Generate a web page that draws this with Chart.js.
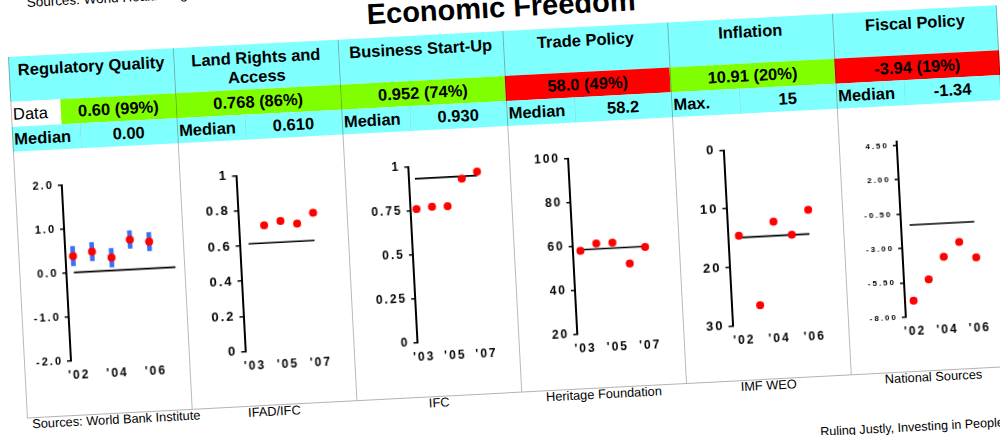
<!DOCTYPE html>
<html><head><meta charset="utf-8">
<script src="https://cdn.jsdelivr.net/npm/chart.js@4.4.1/dist/chart.umd.min.js"></script>
<style>
html,body{margin:0;padding:0;background:#fff;width:1000px;height:435px;overflow:hidden;font-family:"Liberation Sans",Arial,sans-serif;color:#000;}
#sheet{position:absolute;left:8px;top:57px;width:990px;height:361px;transform-origin:0 0;transform:rotate(-3deg);}
.box{position:absolute;box-sizing:border-box;white-space:nowrap;}
.hdr{background:#80ffff;font-weight:bold;font-size:16.5px;line-height:19px;text-align:center;padding:4px 3px 0;white-space:normal;}
.row{display:flex;align-items:center;justify-content:center;font-size:16.5px;font-weight:bold;}
.lbl{justify-content:flex-start;padding-left:2px;}
.cyan{background:#80ffff;}
.vline{position:absolute;width:1px;background:rgba(0,0,0,0.28);}
.hline{position:absolute;height:1px;background:rgba(0,0,0,0.3);}
.src{font-size:12.8px;line-height:13px;text-align:center;}
canvas{position:absolute;}
</style>
</head><body>
<div id="sheet"></div>
<script>
// ---- table text ----
const categories = ['Regulatory Quality','Land Rights and Access','Business Start-Up','Trade Policy','Inflation','Fiscal Policy'];
const scoreText = ['0.60 (99%)','0.768 (86%)','0.952 (74%)','58.0 (49%)','10.91 (20%)','-3.94 (19%)'];
const passed = [true, true, true, false, true, false];
const refLabel = ['Median','Median','Median','Median','Max.','Median'];
const refText = ['0.00','0.610','0.930','58.2','15','-1.34'];
const sourceNames = ['Sources: World Bank Institute','IFAD/IFC','IFC','Heritage Foundation','IMF WEO','National Sources'];

// ---- series ----
const rqYears = [2002, 2003, 2004, 2005, 2006];
const rqValues = [0.37, 0.45, 0.29, 0.68, 0.61];
const rqLow = [0.15, 0.24, 0.08, 0.48, 0.40];
const rqHigh = [0.59, 0.66, 0.50, 0.88, 0.82];
const lrYears = [2004, 2005, 2006, 2007];
const lrValues = [0.71, 0.73, 0.71, 0.768];
const bsYears = [2003, 2004, 2005, 2006, 2007];
const bsValues = [0.757, 0.766, 0.765, 0.916, 0.952];
const tpYears = [2003, 2004, 2005, 2006, 2007];
const tpValues = [57.8, 60.7, 60.7, 50.8, 58.0];
const inYears = [2002, 2003, 2004, 2005, 2006];
const inValues = [14.7, 26.7, 12.6, 15.0, 10.91];
const fpYears = [2002, 2003, 2004, 2005, 2006];
const fpValues = [-6.85, -5.36, -3.78, -2.75, -3.94];

const refValues = [0.00, 0.61, 0.93, 58.2, 15, -1.34];
const refFrom = [2002, 2003, 2003, 2003, 2002, 2002];
const refTo = [2007.3, 2007, 2007, 2007, 2006, 2006];

// ---- tick labels ----
const rqTicks = [-2, -1, 0, 1, 2];
const lrTicks = [0, 0.2, 0.4, 0.6, 0.8, 1];
const bsTicks = [0, 0.25, 0.5, 0.75, 1];
const tpTicks = [20, 40, 60, 80, 100];
const inTicks = [0, 10, 20, 30];
const fpTicks = [-8, -5.5, -3, -0.5, 2, 4.5];
const xTickYears = [[2002,2004,2006],[2003,2005,2007],[2003,2005,2007],[2003,2005,2007],[2002,2004,2006],[2002,2004,2006]];

const seriesYears = [rqYears, lrYears, bsYears, tpYears, inYears, fpYears];
const seriesValues = [rqValues, lrValues, bsValues, tpValues, inValues, fpValues];
const yTicks = [rqTicks, lrTicks, bsTicks, tpTicks, inTicks, fpTicks];

// ---- layout (positions/styles only) ----
const COLW = 165;
const panelLayout = [
  {axis:47,   y0:2002, p0:54.5, step:19.2,  right:160, yMin:-2, yMax:2,   rev:false, font:11, dec:1},
  {axis:56.5, y0:2003, p0:65.5, step:16.5,  right:150, yMin:0,  yMax:1,   rev:false, font:13, dec:-1},
  {axis:64,   y0:2003, p0:70,   step:15.6,  right:150, yMin:0,  yMax:1,   rev:false, font:12, dec:-1},
  {axis:59,   y0:2003, p0:66.5, step:16.2,  right:150, yMin:20, yMax:100, rev:false, font:12, dec:-1},
  {axis:49.5, y0:2002, p0:60.5, step:17.65, right:150, yMin:0,  yMax:30,  rev:true,  font:13, dec:-1},
  {axis:58,   y0:2002, p0:66.6, step:16.2,  right:150, yMin:-8, yMax:4.8, rev:false, font:8,  dec:2}
];

const sheet = document.getElementById('sheet');
function el(cls, css, text){
  const d = document.createElement('div');
  d.className = cls;
  Object.assign(d.style, css);
  if (text !== undefined) d.textContent = text;
  sheet.appendChild(d);
  return d;
}

// title & stray texts
el('box', {left:'0px', top:'-38.5px', width:'990px', textAlign:'center', fontSize:'29px', lineHeight:'29px', fontWeight:'bold'}, 'Economic Freedom');
el('box', {left:'21.5px', top:'-60.5px', fontSize:'13.5px', lineHeight:'13.5px'}, 'Sources: World Health Organization');
el('box', {left:'791.5px', top:'411px', fontSize:'12.6px', lineHeight:'13px'}, 'Ruling Justly, Investing in People, Economic Freedom');

categories.forEach((name, c) => {
  const x = c * COLW;
  el('box hdr', {left:x+'px', top:'0px', width:COLW+'px', height:'45px'}, name);
  if (c === 0) {
    el('box row lbl', {left:x+'px', top:'45px', width:'50px', height:'25px', background:'#fff', fontWeight:'normal'}, 'Data');
    el('box row', {left:(x+50)+'px', top:'45px', width:(COLW-50)+'px', height:'25px', background: passed[c] ? '#80ff00' : '#ff0000'}, scoreText[c]);
  } else {
    el('box row', {left:x+'px', top:'45px', width:COLW+'px', height:'25px', background: passed[c] ? '#80ff00' : '#ff0000'}, scoreText[c]);
  }
  el('box row lbl cyan', {left:x+'px', top:'70px', width:'68px', height:'25px'}, refLabel[c]);
  el('box row cyan', {left:(x+68)+'px', top:'70px', width:(COLW-68)+'px', height:'25px'}, refText[c]);
  el('vline', {left:(x+68)+'px', top:'70px', height:'25px', background:'rgba(0,0,0,0.08)'});
  if (c === 0) el('box src', {left:'5px', top:'361px', textAlign:'left'}, sourceNames[c]);
  else el('box src', {left:x+'px', top:'361px', width:COLW+'px'}, sourceNames[c]);
});
// grid lines of the table
for (let c = 0; c <= 6; c++) el('vline', {left:(c*COLW - (c===6?1:0))+'px', top:'0px', height:'361px'});
el('hline', {left:'0px', top:'361px', width:'990px'});

// ---- charts ----
Chart.defaults.font.family = '"Liberation Sans", Arial, sans-serif';
const spacingPlugin = {
  id: 'spacing',
  beforeDraw(chart) { chart.ctx.letterSpacing = '2px'; }
};

panelLayout.forEach((L, c) => {
  const cv = document.createElement('canvas');
  cv.width = COLW; cv.height = 245;
  cv.style.left = (c * COLW) + 'px';
  cv.style.top = '95px';
  sheet.appendChild(cv);

  const xMin = L.y0 - (L.p0 - L.axis) / L.step;
  const xMax = L.y0 + (L.right - L.p0) / L.step;
  const years = seriesYears[c], vals = seriesValues[c];

  const datasets = [
    {type:'scatter', data: years.map((y, i) => ({x:y, y:vals[i]})), backgroundColor:'#ff0000', borderWidth:0, pointRadius:4, order:0},
    {type:'line', data:[{x:refFrom[c], y:refValues[c]}, {x:refTo[c], y:refValues[c]}], borderColor:'#000', borderWidth:1.6, pointRadius:0, showLine:true, order:1}
  ];
  if (c === 0) {
    datasets.push({type:'bar', data: rqYears.map((y, i) => ({x:y, y:[rqLow[i], rqHigh[i]]})), backgroundColor:'#3d6ff5', barThickness:4, grouped:false, order:2});
  }

  const fmt = v => L.dec >= 0 ? Number(v).toFixed(L.dec) : String(v);
  const yT = yTicks[c], xT = xTickYears[c];

  new Chart(cv, {
    type: 'scatter',
    data: { datasets },
    options: {
      responsive:false, animation:false, events:[],
      layout:{padding:{left:0, top:35.5, right:COLW - L.right, bottom:5.3}},
      plugins:{legend:{display:false}, tooltip:{enabled:false}},
      scales:{
        x:{
          type:'linear', min:xMin, max:xMax, offset:false,
          grid:{display:false, drawTicks:false, offset:false},
          border:{display:false},
          afterBuildTicks: s => { s.ticks = xT.map(v => ({value:v})); },
          afterFit: s => { s.height = 28; },
          ticks:{padding:8, color:'#000', font:{size:12, weight:'bold'}, maxRotation:0, autoSkip:false,
                 callback: v => "'" + String(v).slice(2)}
        },
        y:{
          type:'linear', position:'left', min:L.yMin, max:L.yMax, reverse:L.rev,
          grid:{drawOnChartArea:false, drawTicks:true, tickLength:4, color:'#000', lineWidth:1.5},
          border:{display:true, color:'#000', width:2},
          afterBuildTicks: s => { s.ticks = yT.map(v => ({value:v})); },
          afterFit: s => { s.width = L.axis; },
          ticks:{padding:4, color:'#000', font:{size:L.font, weight:'bold'}, autoSkip:false, callback: fmt}
        }
      }
    },
    plugins:[spacingPlugin]
  });
});
</script>
</body></html>
